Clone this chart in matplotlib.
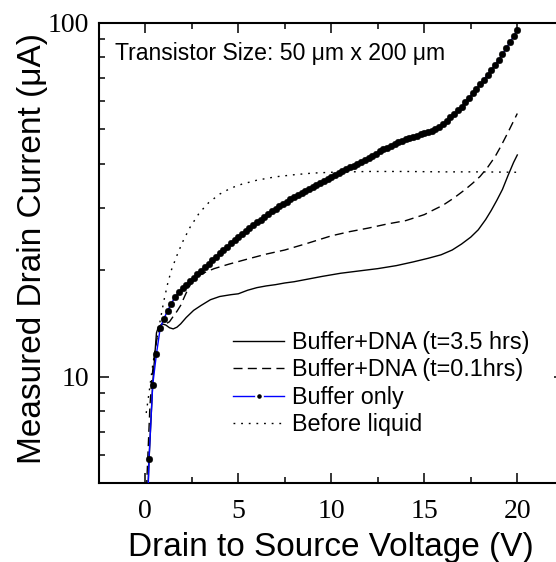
import matplotlib
matplotlib.use("Agg")
import matplotlib.pyplot as plt
from matplotlib.lines import Line2D
from matplotlib.ticker import MultipleLocator, FixedLocator, LogLocator, NullFormatter, FormatStrFormatter

plt.rcParams["font.family"] = ["Liberation Sans", "DejaVu Sans"]

# Buffer only (measured every 0.2 V)
buffer_v = [0.0, 0.2, 0.4, 0.6, 0.8, 1.0, 1.2, 1.4, 1.6, 1.8,
            2.0, 2.2, 2.4, 2.6, 2.8, 3.0, 3.2, 3.4, 3.6, 3.8,
            4.0, 4.2, 4.4, 4.6, 4.8, 5.0, 5.2, 5.4, 5.6, 5.8,
            6.0, 6.2, 6.4, 6.6, 6.8, 7.0, 7.2, 7.4, 7.6, 7.8,
            8.0, 8.2, 8.4, 8.6, 8.8, 9.0, 9.2, 9.4, 9.6, 9.8,
            10.0, 10.2, 10.4, 10.6, 10.8, 11.0, 11.2, 11.4, 11.6, 11.8,
            12.0, 12.2, 12.4, 12.6, 12.8, 13.0, 13.2, 13.4, 13.6, 13.8,
            14.0, 14.2, 14.4, 14.6, 14.8, 15.0, 15.2, 15.4, 15.6, 15.8,
            16.0, 16.2, 16.4, 16.6, 16.8, 17.0, 17.2, 17.4, 17.6, 17.8,
            18.0, 18.2, 18.4, 18.6, 18.8, 19.0, 19.2, 19.4, 19.6, 19.8,
            20.0]
buffer_i = [2.5, 5.85, 9.5, 11.6, 13.7, 14.6, 15.35, 16.1, 16.8, 17.3,
            17.8, 18.2, 18.6, 19.0, 19.5, 19.9, 20.4, 20.8, 21.3, 21.8,
            22.3, 22.8, 23.3, 23.8, 24.3, 24.8, 25.3, 25.8, 26.3, 26.8,
            27.3, 27.8, 28.3, 28.8, 29.3, 29.8, 30.3, 30.8, 31.2, 31.7,
            32.2, 32.6, 33.1, 33.5, 34.0, 34.4, 34.9, 35.3, 35.8, 36.2,
            36.6, 37.1, 37.6, 38.0, 38.5, 39.0, 39.5, 40.0, 40.5, 41.0,
            41.5, 42.1, 42.7, 43.3, 43.9, 44.4, 44.9, 45.5, 46.0, 46.4,
            46.8, 47.2, 47.6, 48.0, 48.4, 48.8, 49.2, 49.6, 50.1, 50.8,
            51.7, 52.8, 54.0, 55.2, 56.5, 57.9, 59.6, 61.4, 63.2, 65.1,
            67.0, 69.1, 71.3, 73.6, 76.0, 78.6, 81.4, 84.6, 88.0, 91.5,
            95.3]

# Buffer+DNA (t=3.5 hrs)
dna35_v = [0.0, 0.2, 0.4, 0.6, 0.7, 0.9, 1.1, 1.3, 1.5, 1.7, 1.9, 2.2, 2.6, 3.0,
           3.5, 4.0, 4.6, 5.0, 5.5, 6.0, 6.5, 7.0, 7.5, 8.0, 8.7, 9.5, 10.5,
           11.5, 12.5, 13.5, 14.4, 15.2, 15.9, 16.5, 17.0, 17.5, 17.9, 18.3,
           18.6, 18.9, 19.2, 19.5, 19.8, 20.0]
dna35_i = [3.0, 5.8, 9.6, 13.3, 13.8, 14.1, 14.0, 13.75, 13.65, 13.8, 14.1, 14.7, 15.4, 15.9,
           16.5, 16.85, 17.05, 17.15, 17.55, 17.85, 18.05, 18.2, 18.4, 18.55, 18.85, 19.2, 19.6,
           19.9, 20.2, 20.6, 21.1, 21.6, 22.1, 22.8, 23.7, 24.8, 26.0, 27.8,
           29.5, 31.5, 33.8, 37.0, 40.3, 42.3]

# Buffer+DNA (t=0.1hrs)
dna01_v = [0.0, 0.15, 0.25, 0.35, 0.45, 0.6, 0.75, 0.9, 1.1, 1.3, 1.5, 1.7, 1.9, 2.1,
           2.3, 2.5, 2.8, 3.2, 3.7, 4.5, 5.5, 6.5, 7.5, 8.7, 10.0, 11.0, 12.0, 13.0,
           14.0, 15.0, 15.5, 16.0, 16.6, 17.2, 17.6, 18.0, 18.4, 18.8, 19.1, 19.5, 20.0]
dna01_i = [4.0, 6.2, 8.3, 9.8, 11.1, 12.6, 13.6, 14.1, 14.1, 14.3, 14.8, 15.3, 15.9, 16.8,
           17.7, 18.5, 19.2, 19.7, 20.2, 20.8, 21.5, 22.2, 22.8, 23.8, 25.0, 25.7, 26.3, 27.0,
           27.6, 28.7, 29.6, 30.5, 32.0, 33.8, 35.2, 36.8, 39.0, 41.8, 44.6, 49.0, 55.4]

# Before liquid
dry_v = [0.05, 0.2, 0.4, 0.6, 0.8, 1.0, 1.2, 1.4, 1.7, 2.0, 2.4, 2.9, 3.4, 4.0, 4.6,
         5.2, 6.0, 7.0, 8.0, 9.0, 10.0, 12.0, 14.0, 16.0, 18.0, 20.0]
dry_i = [7.9, 9.0, 10.8, 12.6, 14.4, 16.4, 18.3, 20.0, 22.0, 24.0, 26.4, 29.0, 31.0, 32.8, 34.1,
         35.0, 35.9, 36.7, 37.2, 37.6, 37.8, 38.0, 38.0, 37.9, 37.9, 37.8]

W, H = 556, 562
fig = plt.figure(figsize=(W / 100, H / 100), dpi=100)
# the right part of the frame runs past the picture edge, as in the original
ax = fig.add_axes([98.8 / W, 1 - 483.3 / H, 465 / W, 460.6 / H])

ax.plot(dna35_v, dna35_i, color="black", lw=1.0, ls="-")
ax.plot(dna01_v, dna01_i, color="black", lw=1.0, dashes=(6.5, 3.8))
ax.plot(dry_v, dry_i, color="black", lw=1.0, dashes=(1.3, 4.2))
ax.plot(buffer_v, buffer_i, color="blue", lw=1.0, marker="o", ms=4.8,
        mfc="black", mec="black", mew=0.3, zorder=3)

ax.set_xlim(-2.5, 22.5)
ax.set_yscale("log")
ax.set_ylim(5, 100)

ax.xaxis.set_major_locator(MultipleLocator(5))
ax.xaxis.set_minor_locator(MultipleLocator(2.5))
ax.yaxis.set_major_locator(FixedLocator([10, 100]))
ax.yaxis.set_major_formatter(FormatStrFormatter("%g"))
ax.yaxis.set_minor_locator(LogLocator(base=10, subs=range(2, 10)))
ax.yaxis.set_minor_formatter(NullFormatter())

ax.tick_params(which="both", direction="in", top=True, right=True, width=1.1)
ax.tick_params(which="major", length=7.5, pad=7, labelsize=20,
               labelfontfamily="Liberation Serif")
ax.tick_params(axis="x", which="major", pad=11)
ax.tick_params(which="minor", length=4.3)
for s in ax.spines.values():
    s.set_linewidth(1.5)

ax.set_xlabel("Drain to Source Voltage (V)", fontsize=24)
ax.set_ylabel("Measured Drain Current (μA)", fontsize=24)
ax.xaxis.set_label_coords(0.5, -0.106)
ax.yaxis.set_label_coords(-0.11, 0.509)

fig.text(115 / W, 1 - 60 / H, "Transistor Size: 50 μm x 200 μm", fontsize=16.6,
         va="baseline", ha="left")

handles = [
    Line2D([], [], color="black", lw=1.0),
    Line2D([], [], color="black", lw=1.0, dashes=(6.5, 3.8)),
    Line2D([], [], color="blue", lw=1.0, marker="o", ms=4.8, mfc="black",
           mec="white", mew=1.5),
    Line2D([], [], color="black", lw=1.0, dashes=(1.3, 4.2)),
]
labels = ["Buffer+DNA (t=3.5 hrs)", "Buffer+DNA (t=0.1hrs)", "Buffer only", "Before liquid"]
fig.legend(handles, labels, loc="upper left", bbox_to_anchor=(233 / W, 1 - 331 / H),
           bbox_transform=fig.transFigure, frameon=False, fontsize=16.8,
           borderpad=0, borderaxespad=0, handlelength=2.2, handletextpad=0.34,
           labelspacing=0.19, numpoints=1)

fig.savefig("out.png", dpi=100)
